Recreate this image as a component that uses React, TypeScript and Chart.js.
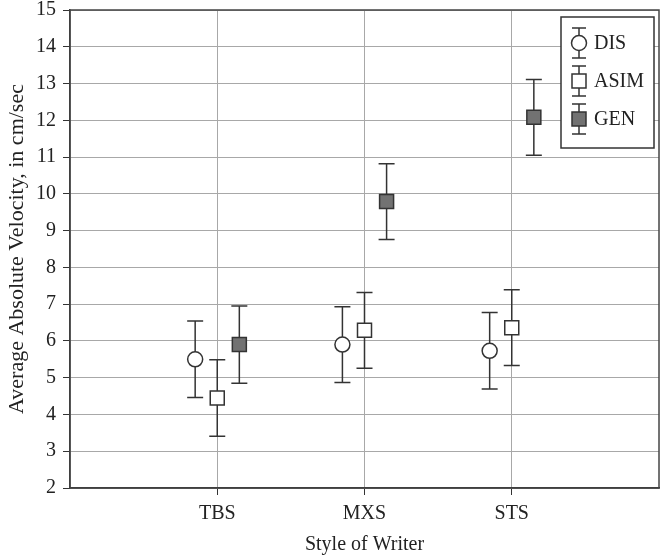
import React, { useEffect, useRef } from 'react';
import { Chart, registerables } from 'chart.js';
Chart.register(...registerables);

const categories = ['TBS', 'MXS', 'STS'];
const seriesNames = ['DIS', 'ASIM', 'GEN'];
const disMean = [5.5, 5.9, 5.73];
const disErr = [1.04, 1.03, 1.04];
const asimMean = [4.45, 6.29, 6.36];
const asimErr = [1.04, 1.03, 1.03];
const genMean = [5.9, 9.79, 12.08];
const genErr = [1.05, 1.03, 1.03];

const FONT = "'Liberation Serif', 'DejaVu Serif', serif";
const FS = 20;
const DARK = '#333333';
const GRID = '#a8a8a8';
const GEN_FILL = '#727272';
const OFFSETS = [-0.15, 0, 0.15];

const errorBarPlugin = {
  id: 'errorBars',
  beforeDatasetsDraw(chart: any) {
    const ctx = chart.ctx;
    const xs = chart.scales.x;
    const ys = chart.scales.y;
    ctx.save();
    ctx.strokeStyle = DARK;
    ctx.lineWidth = 1.5;
    chart.data.datasets.forEach((ds: any) => {
      ds.data.forEach((p: any, i: number) => {
        const x = xs.getPixelForValue(p.x);
        const y1 = ys.getPixelForValue(p.y + ds.err[i]);
        const y2 = ys.getPixelForValue(p.y - ds.err[i]);
        ctx.beginPath();
        ctx.moveTo(x, y1);
        ctx.lineTo(x, y2);
        ctx.moveTo(x - 8, y1);
        ctx.lineTo(x + 8, y1);
        ctx.moveTo(x - 8, y2);
        ctx.lineTo(x + 8, y2);
        ctx.stroke();
      });
    });
    ctx.restore();
  },
};

const framePlugin = {
  id: 'frame',
  beforeDatasetsDraw(chart: any) {
    const { ctx, chartArea } = chart;
    ctx.save();
    ctx.strokeStyle = '#444';
    ctx.lineWidth = 1.5;
    ctx.strokeRect(chartArea.left, chartArea.top, chartArea.right - chartArea.left, chartArea.bottom - chartArea.top);
    ctx.restore();
  },
};

function drawMarker(ctx: CanvasRenderingContext2D, style: string, x: number, y: number, fill: string) {
  ctx.beginPath();
  if (style === 'circle') {
    ctx.arc(x, y, 7.5, 0, Math.PI * 2);
  } else {
    ctx.rect(x - 7, y - 7, 14, 14);
  }
  ctx.fillStyle = fill;
  ctx.fill();
  ctx.stroke();
}

const legendPlugin = {
  id: 'customLegend',
  afterDraw(chart: any) {
    const { ctx, chartArea } = chart;
    const w = 93;
    const h = 131;
    const left = chartArea.right - w - 5;
    const top = chartArea.top + 7;
    ctx.save();
    ctx.fillStyle = '#ffffff';
    ctx.fillRect(left, top, w, h);
    ctx.strokeStyle = DARK;
    ctx.lineWidth = 1.5;
    ctx.strokeRect(left, top, w, h);
    chart.data.datasets.forEach((ds: any, i: number) => {
      const mx = left + 18;
      const my = top + 26 + i * 38;
      ctx.strokeStyle = DARK;
      ctx.lineWidth = 1.5;
      ctx.beginPath();
      ctx.moveTo(mx, my - 15);
      ctx.lineTo(mx, my + 15);
      ctx.moveTo(mx - 7, my - 15);
      ctx.lineTo(mx + 7, my - 15);
      ctx.moveTo(mx - 7, my + 15);
      ctx.lineTo(mx + 7, my + 15);
      ctx.stroke();
      drawMarker(ctx, ds.pointStyle, mx, my, ds.backgroundColor);
      ctx.fillStyle = '#222';
      ctx.font = `${FS}px ${FONT}`;
      ctx.textAlign = 'left';
      ctx.textBaseline = 'middle';
      ctx.fillText(ds.label, mx + 15, my + 1);
    });
    ctx.restore();
  },
};

const means = [disMean, asimMean, genMean];
const errs = [disErr, asimErr, genErr];
const styles = ['circle', 'rect', 'rect'];
const fills = ['#ffffff', '#ffffff', GEN_FILL];

export default function App() {
  const ref = useRef<HTMLCanvasElement>(null);
  useEffect(() => {
    const datasets = seriesNames.map((name, s) => ({
      label: name,
      data: categories.map((_, i) => ({ x: i + 1 + OFFSETS[s], y: means[s][i] })),
      err: errs[s],
      pointStyle: styles[s],
      pointRadius: styles[s] === 'circle' ? 7.5 : 9.9,
      backgroundColor: fills[s],
      borderColor: DARK,
      borderWidth: 1.5,
      showLine: false,
    }));
    const chart = new Chart(ref.current as HTMLCanvasElement, {
      type: 'scatter',
      data: { datasets } as any,
      options: {
        animation: false,
        responsive: false,
        layout: { autoPadding: false, padding: { top: 10, right: 3, bottom: 0, left: 0 } },
        plugins: { legend: { display: false }, tooltip: { enabled: false } },
        scales: {
          x: {
            type: 'linear',
            min: 0,
            max: 4,
            afterBuildTicks: (scale: any) => {
              scale.ticks = categories.map((_, i) => ({ value: i + 1 }));
            },
            afterFit: (scale: any) => {
              scale.height = 68;
              scale.paddingLeft = 0;
              scale.paddingRight = 0;
            },
            ticks: {
              callback: (v: any) => categories[Math.round(Number(v)) - 1] ?? '',
              font: { family: FONT, size: FS },
              color: '#222',
              padding: 7,
              maxRotation: 0,
            },
            grid: { color: GRID, lineWidth: 1, tickColor: DARK, tickLength: 7 },
            border: { color: DARK, width: 1.5 },
            title: {
              display: true,
              text: 'Style of Writer',
              font: { family: FONT, size: FS },
              color: '#222',
              padding: { top: 2, bottom: -1 },
            },
          },
          y: {
            min: 2,
            max: 15,
            afterFit: (scale: any) => {
              scale.width = 70;
              scale.paddingTop = 0;
              scale.paddingBottom = 0;
            },
            ticks: {
              stepSize: 1,
              font: { family: FONT, size: FS },
              color: '#222',
              padding: 7,
            },
            grid: { color: GRID, lineWidth: 1, tickColor: DARK, tickLength: 7 },
            border: { color: DARK, width: 1.5 },
            title: {
              display: true,
              text: 'Average Absolute Velocity, in cm/sec',
              font: { family: FONT, size: 22 },
              color: '#222',
              padding: { top: 4, bottom: 0 },
            },
          },
        },
      },
      plugins: [framePlugin, errorBarPlugin, legendPlugin],
    });
    return () => chart.destroy();
  }, []);
  return (
    <div style={{ position: 'absolute', left: 0, top: 0, width: 662, height: 556 }}>
      <canvas ref={ref} width={662} height={556} style={{ width: 662, height: 556 }} />
    </div>
  );
}
